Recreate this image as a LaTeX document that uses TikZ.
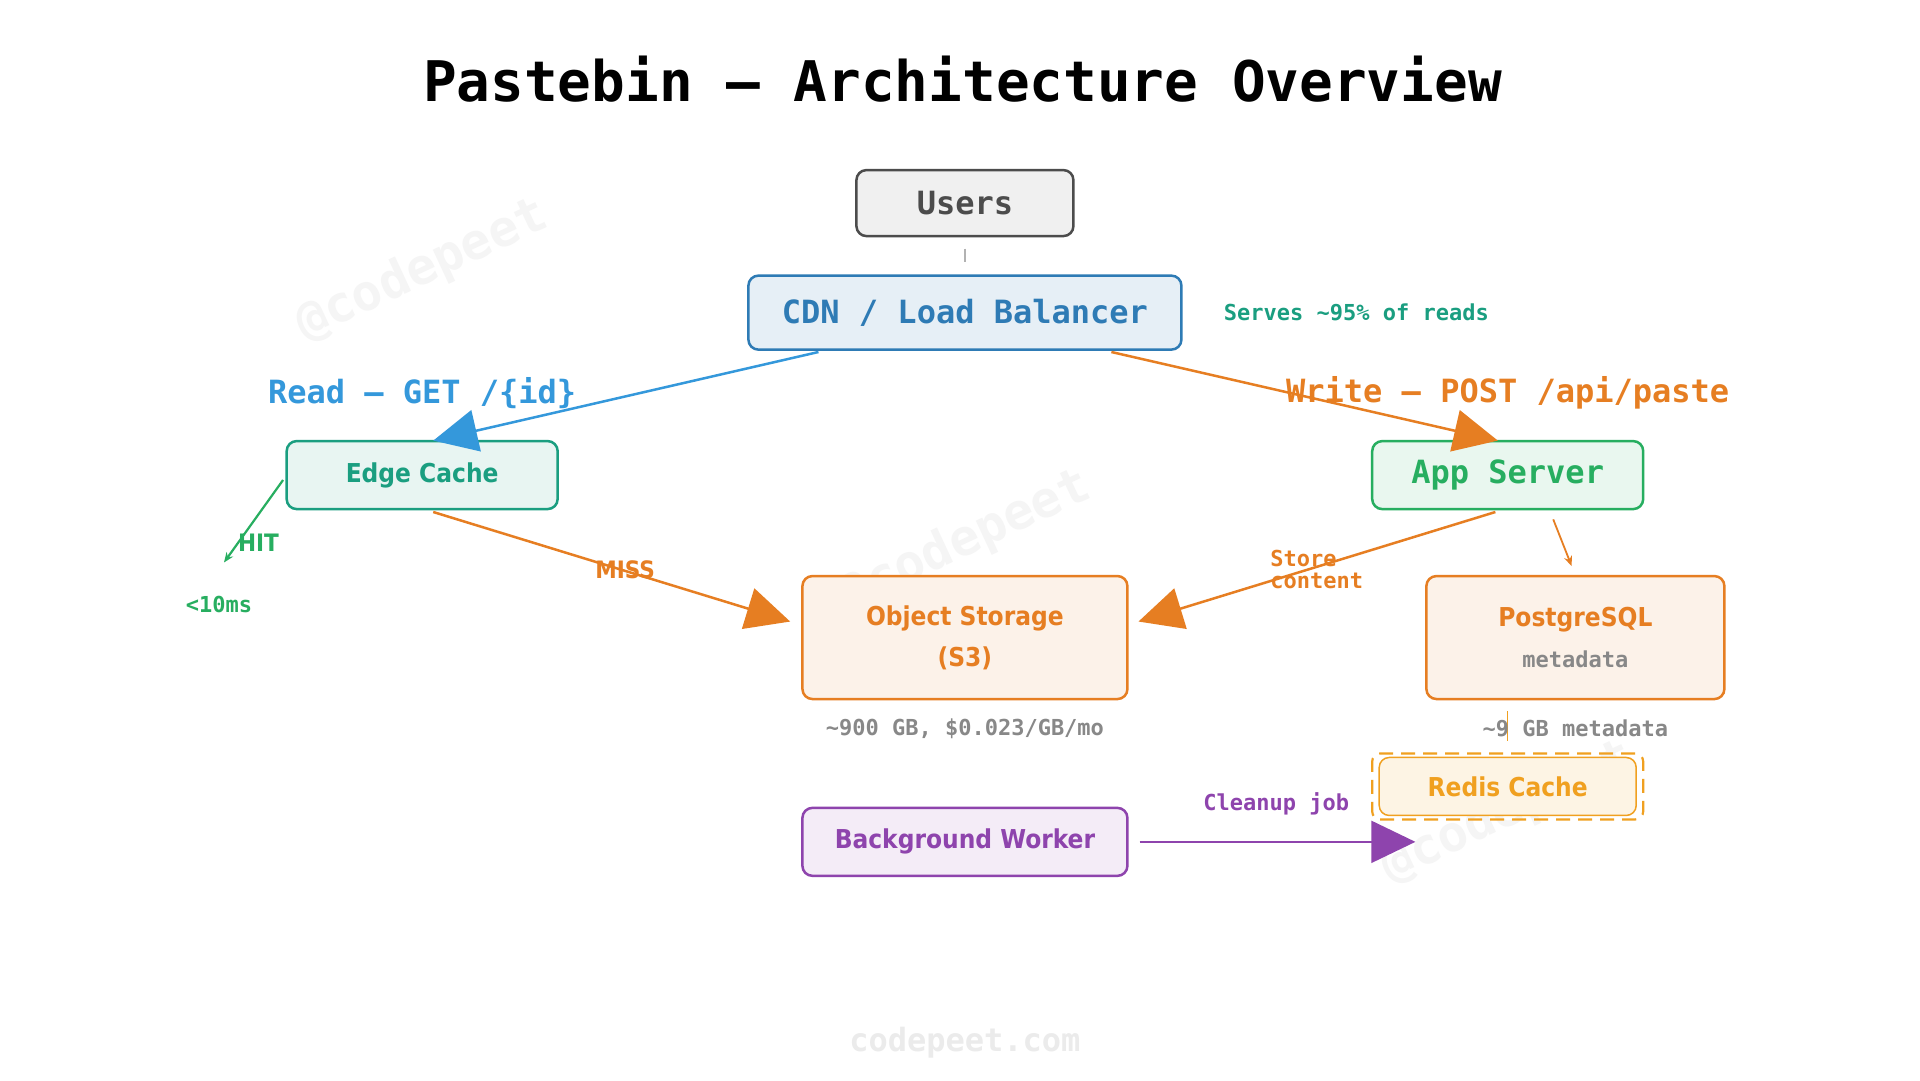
\documentclass[tikz,border=0pt]{standalone}
\usepackage{fontspec}
\setmainfont{DejaVu Sans}
\newfontfamily\mono{DejaVu Sans Mono}
\newfontfamily\cond{DejaVu Sans Condensed}
\usetikzlibrary{arrows.meta}
\definecolor{cblue}{HTML}{2E7BB5}
\definecolor{lblue}{HTML}{3498DB}
\definecolor{teal}{HTML}{1A9E80}
\definecolor{cgreen}{HTML}{27AE60}
\definecolor{corange}{HTML}{E67E22}
\definecolor{cyel}{HTML}{F0A020}
\definecolor{cpurp}{HTML}{8E44AD}
\definecolor{cgray}{HTML}{888888}
\begin{document}
\begin{tikzpicture}[x=1.2308pt,y=-1.2308pt,
  box/.style={draw,line width=2.5pt,rounded corners=10pt,inner sep=0pt},
  big/.style={-{Triangle[length=44pt,width=42pt]},line width=2.5pt},
  small/.style={-{Stealth[length=10pt,width=8pt]},line width=2.2pt},
  lab/.style={font=\mono\bfseries\fontsize{22}{26}\selectfont},
  wm/.style={text=black!4,font=\mono\bfseries\fontsize{50}{50}\selectfont,rotate=25}]
\useasboundingbox (0,0) rectangle (1560,877.5);
\fill[white] (0,0) rectangle (1560,877.5);
\node[wm] (w1) at (343,220) {@codepeet};
\node[wm] (w2) at (784,440) {@codepeet};
\node[wm] (w3) at (1225,660) {@codepeet};
\node (title) at (782,64) {\mono\bfseries\fontsize{56}{60}\selectfont Pastebin — Architecture Overview};
\node[box,draw=black!70,fill=black!6,minimum width=217pt,minimum height=66pt] (users) at (784,165) {\mono\bfseries\fontsize{32}{36}\selectfont\color{black!70}Users};
\node[box,draw=cblue,fill=cblue!12,minimum width=433pt,minimum height=74pt] (cdn) at (784,254) {\mono\bfseries\fontsize{32}{36}\selectfont\color{cblue}CDN / Load Balancer};
\node[box,draw=teal,fill=teal!10,minimum width=271pt,minimum height=68pt] (edge) at (343,386) {\cond\bfseries\fontsize{26}{30}\selectfont\color{teal}Edge Cache};
\node[box,draw=cgreen,fill=cgreen!10,minimum width=271pt,minimum height=68pt] (app) at (1225,386) {\mono\bfseries\fontsize{32}{36}\selectfont\color{cgreen}App Server};
\node[box,draw=corange,fill=corange!10,minimum width=325pt,minimum height=123pt,align=center,text=corange,font=\cond\bfseries\fontsize{26}{41}\selectfont] (obj) at (784,518) {Object Storage\\(S3)};
\node[box,draw=corange,fill=corange!10,minimum width=298pt,minimum height=123pt,align=center,text=corange,font=\cond\bfseries\fontsize{26}{41}\selectfont] (pg) at (1280,518) {PostgreSQL\\{\mono\bfseries\fontsize{22}{26}\selectfont\color{cgray}metadata}};
\node[draw=cyel,line width=2.2pt,dash pattern=on 14pt off 8pt,rounded corners=8pt,minimum width=271pt,minimum height=66pt] (redisout) at (1225,639) {};
\node[box,line width=1.5pt,draw=cyel,fill=cyel!12,minimum width=257pt,minimum height=58pt] (redis) at (1225,639) {\cond\bfseries\fontsize{26}{30}\selectfont\color{cyel}Redis Cache};
\node[box,draw=cpurp,fill=cpurp!10,minimum width=325pt,minimum height=68pt] (worker) at (784,684) {\cond\bfseries\fontsize{26}{30}\selectfont\color{cpurp}Background Worker};
% connectors
\coordinate (u1) at (784,202); \coordinate (u2) at (784,213);
\draw[black!30,line width=1.5pt] (u1) -- (u2);
\coordinate (c1) at (665,286); \coordinate (e1) at (352,358);
\draw[big,lblue] (c1) -- (e1);
\coordinate (c2) at (903,286); \coordinate (a1) at (1217,358);
\draw[big,corange] (c2) -- (a1);
\coordinate (e2) at (230,390); \coordinate (hit) at (182,457);
\draw[small,cgreen] (e2) -- (hit);
\coordinate (e3) at (352,416); \coordinate (o1) at (642,505);
\draw[big,corange] (e3) -- (o1);
\coordinate (a2) at (1215,416); \coordinate (o2) at (925,505);
\draw[big,corange] (a2) -- (o2);
\coordinate (a3) at (1262,422); \coordinate (p1) at (1277,460);
\draw[small,corange,line width=1.8pt] (a3) -- (p1);
\coordinate (p2) at (1225,578); \coordinate (r1) at (1225,602);
\draw[cyel,line width=1.5pt] (p2) -- (r1);
\coordinate (w0) at (926,684); \coordinate (w4) at (1150,684);
\draw[big,cpurp,line width=1.8pt] (w0) -- (w4);
% labels
\node[lab,text=teal] (l1) at (1102,254) {Serves \textasciitilde95\% of reads};
\node[font=\mono\bfseries\fontsize{32}{36}\selectfont,text=lblue] (l2) at (343,319) {Read — GET /\{id\}};
\node[font=\mono\bfseries\fontsize{32}{36}\selectfont,text=corange] (l3) at (1225,319) {Write — POST /api/paste};
\node[font=\cond\bfseries\fontsize{24}{28}\selectfont,text=cgreen] (l4) at (210,441) {HIT};
\node[lab,text=cgreen] (l5) at (178,491) {<10ms};
\node[font=\cond\bfseries\fontsize{24}{28}\selectfont,text=corange] (l6) at (508,463) {MISS};
\node[text=corange,anchor=west,align=left,inner sep=0pt,font=\mono\bfseries\fontsize{22}{22}\selectfont] (l7) at (1032,463) {Store\\content};
\node[lab,text=cgray] (l8) at (784,592) {\textasciitilde900 GB, \$0.023/GB/mo};
\node[lab,text=cgray] (l9) at (1280,592) {\textasciitilde9 GB metadata};
\node[lab,text=cpurp] (l10) at (1037,653) {Cleanup job};
\node[font=\mono\bfseries\fontsize{32}{36}\selectfont,text=black!8] (l11) at (784,847) {codepeet.com};
\end{tikzpicture}
\end{document}
